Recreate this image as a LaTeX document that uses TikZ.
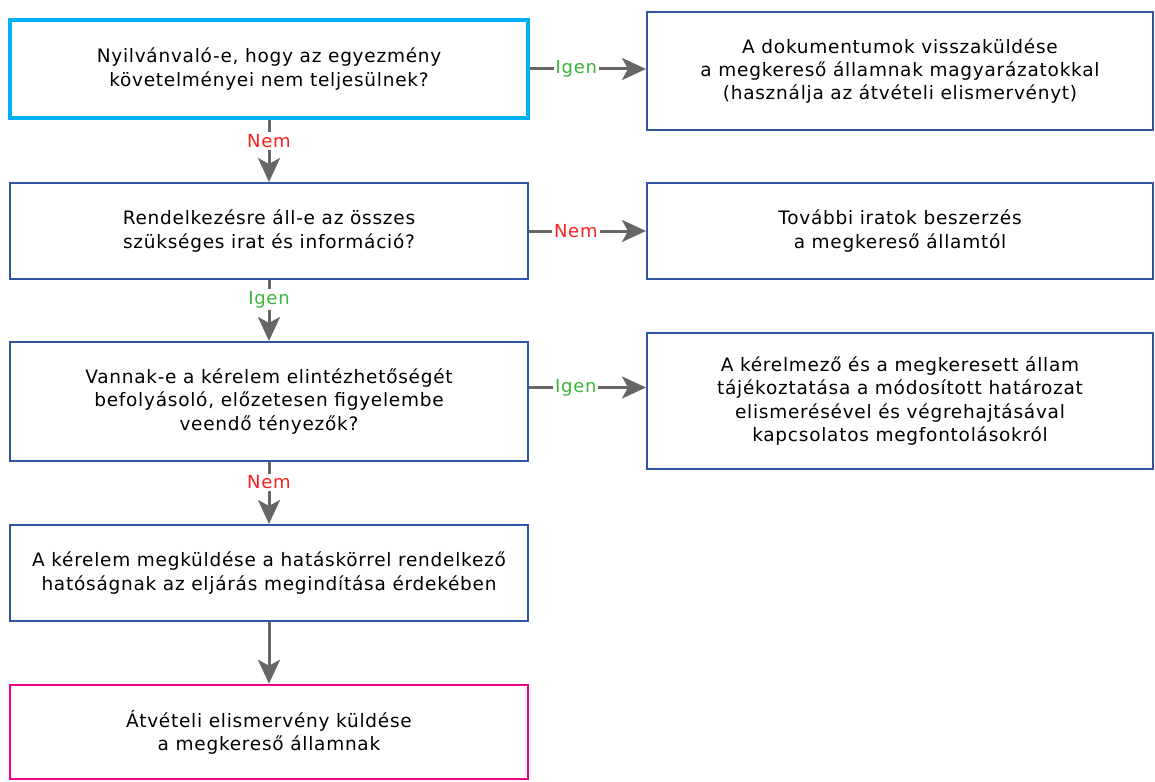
\documentclass[tikz,border=0pt]{standalone}
\usepackage{fontspec}
\setmainfont{DejaVu Sans}[LetterSpace=4]
\usetikzlibrary{arrows.meta}
\definecolor{boxblue}{HTML}{2F55A4}
\definecolor{cyanb}{HTML}{00B0F0}
\definecolor{magb}{HTML}{EC008C}
\definecolor{arrgray}{HTML}{666666}
\definecolor{yesgreen}{HTML}{3CB43C}
\definecolor{nored}{HTML}{FF2020}
\tikzset{
  box/.style={draw=boxblue, line width=2pt, rectangle, align=center, inner sep=2pt,
    font=\fontsize{18.5}{23.3}\selectfont, text=black},
  leftbox/.style={box, minimum width=518pt},
  rightbox/.style={box, minimum width=506pt},
  arr/.style={draw=arrgray, line width=3pt, -{Stealth[length=24pt,width=22pt,inset=6pt]}},
  lbl/.style={fill=white, inner sep=2pt, font=\fontsize{18}{20}\selectfont},
  yes/.style={lbl, text=yesgreen},
  no/.style={lbl, text=nored}
}
\begin{document}
\begin{tikzpicture}[x=1pt,y=-1pt]
\useasboundingbox (0,0) rectangle (1155,781);
\node[leftbox, draw=cyanb, line width=4pt, minimum height=98pt] (q1) at (269,69)
  {Nyilvánvaló-e, hogy az egyezmény\\követelményei nem teljesülnek?};
\node[rightbox, minimum height=118pt] (r1) at (900,71)
  {A dokumentumok visszaküldése\\a megkereső államnak magyarázatokkal\\(használja az átvételi elismervényt)};
\node[leftbox, minimum height=96pt] (q2) at (269,231)
  {Rendelkezésre áll-e az összes\\szükséges irat és információ?};
\node[rightbox, minimum height=96pt] (r2) at (900,231)
  {További iratok beszerzés\\a megkereső államtól};
\node[leftbox, minimum height=119pt] (q3) at (269,401.5)
  {Vannak-e a kérelem elintézhetőségét\\befolyásoló, előzetesen figyelembe\\veendő tényezők?};
\node[rightbox, minimum height=136pt] (r3) at (900,401)
  {A kérelmező és a megkeresett állam\\tájékoztatása a módosított határozat\\elismerésével és végrehajtásával\\kapcsolatos megfontolásokról};
\node[leftbox, minimum height=96pt] (q4) at (269,573)
  {A kérelem megküldése a hatáskörrel rendelkező\\hatóságnak az eljárás megindítása érdekében};
\node[leftbox, draw=magb, line width=2.5pt, minimum height=94pt] (q5) at (269,732)
  {Átvételi elismervény küldése\\a megkereső államnak};

\draw[arr] (q1.east) -- node[yes, pos=0.4] {Igen} (q1.east -| r1.west);
\draw[arr] (q2.east) -- node[no, pos=0.4] {Nem} (q2.east -| r2.west);
\draw[arr] ([yshift=14pt]q3.east) -- node[yes, pos=0.4] {Igen} ([yshift=14pt]q3.east -| r3.west);

\draw[arr] (q1.south) -- node[no, pos=0.34] {Nem} (q2.north);
\draw[arr] (q2.south) -- node[yes, pos=0.32] {Igen} (q3.north);
\draw[arr] (q3.south) -- node[no, pos=0.33] {Nem} (q4.north);
\draw[arr] (q4.south) -- (q5.north);
\end{tikzpicture}
\end{document}
